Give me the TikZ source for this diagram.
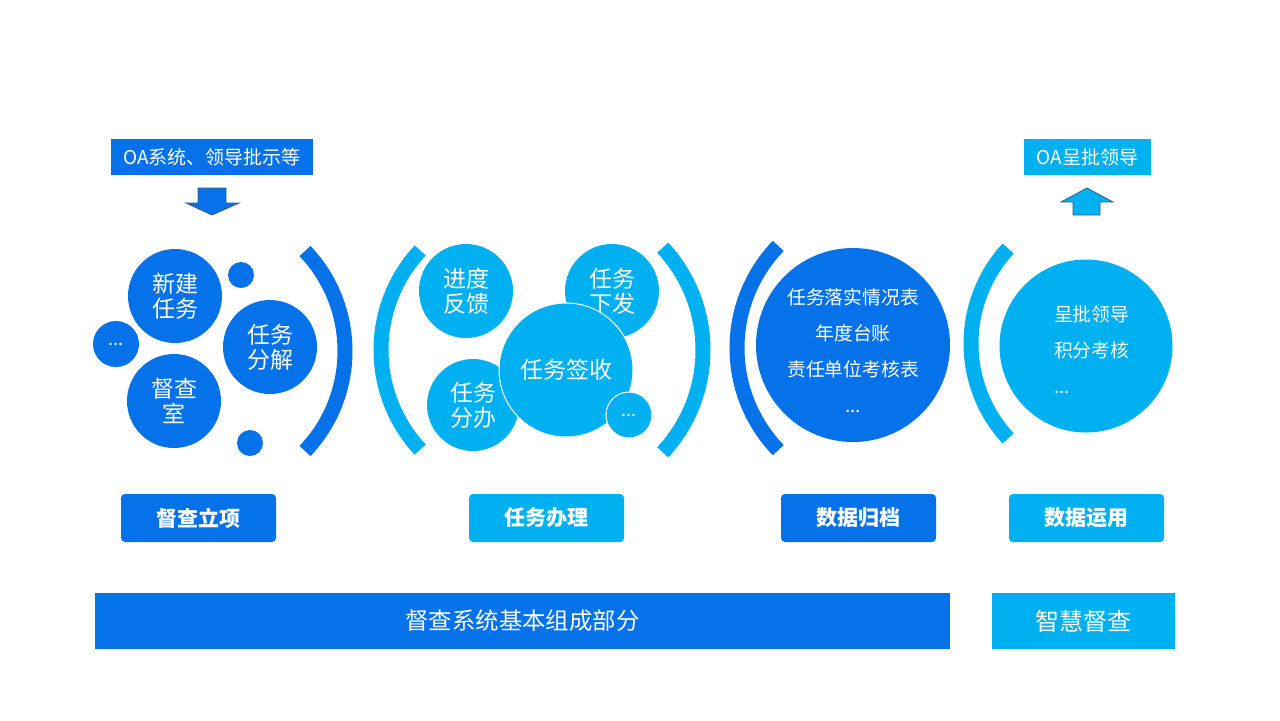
\documentclass[tikz,border=0pt]{standalone}
\usepackage{fontspec}
\setmainfont{Noto Sans CJK SC}
\usepackage{xcolor}
\definecolor{deepblue}{RGB}{6,114,234}
\definecolor{skyblue}{RGB}{0,176,240}
\definecolor{arrowedge}{RGB}{60,90,130}

\tikzset{
  bubble/.style = {circle, inner sep=0pt, align=center, text=white},
  tagbox/.style = {rectangle, rounded corners=2pt, minimum width=77.5pt, minimum height=24pt, text=white, font=\fontsize{10.5}{12}\selectfont\bfseries},
  topbox/.style = {rectangle, minimum height=18pt, text=white, font=\fontsize{9.5}{11}\selectfont},
  barbox/.style = {rectangle, minimum height=28pt, text=white},
  bracket/.style = {line width=7.5pt},
}

\begin{document}
\begin{tikzpicture}[x=0.5pt, y=-0.5pt]
\useasboundingbox (0,0) rectangle (1280,720);

% sources and targets
\node[topbox, fill=deepblue, minimum width=101pt] (oabox) at (212,157) {OA系统、领导批示等};
\node[topbox, fill=skyblue, minimum width=63.5pt] (oaleader) at (1087.5,157) {OA呈批领导};
\draw[fill=deepblue, draw=arrowedge, line width=0.4pt] (198,188) -- (226,188) -- (226,203) -- (239,203) -- (212,215) -- (186,203) -- (198,203) -- cycle;
\draw[fill=skyblue, draw=arrowedge, line width=0.4pt] (1073,215) -- (1100,215) -- (1100,202) -- (1113,202) -- (1087,188) -- (1061,202) -- (1073,202) -- cycle;

% group 1
\node[bubble, fill=deepblue, minimum size=47pt, font=\fontsize{11.5}{12.5}\selectfont] (newtask) at (175,296) {新建\\任务};
\node[bubble, fill=deepblue, minimum size=47pt, font=\fontsize{11.5}{12.5}\selectfont] (split) at (270,347) {任务\\分解};
\node[bubble, fill=deepblue, minimum size=47pt, font=\fontsize{11.5}{12.5}\selectfont] (office) at (174,401) {督查\\室};
\node[bubble, fill=deepblue, minimum size=23pt, font=\fontsize{9}{10}\selectfont] (more1) at (116,344) {...};
\node[bubble, fill=deepblue, minimum size=13pt] (dotA) at (241,275) {};
\node[bubble, fill=deepblue, minimum size=13pt] (dotB) at (250,443) {};
\coordinate (c1) at (200,351);
\draw[bracket, deepblue] (c1) ++(-43.6:72.5pt) arc (-43.6:43.6:72.5pt);

% group 2
\coordinate (c2l) at (527,350);
\coordinate (c2r) at (553,350);
\draw[bracket, skyblue] (c2l) ++(137:73pt) arc (137:223:73pt);
\draw[bracket, skyblue] (c2r) ++(-43:75pt) arc (-43:43:75pt);
\node[bubble, fill=skyblue, minimum size=47pt, font=\fontsize{11.5}{12.5}\selectfont] (feedback) at (466,291) {进度\\反馈};
\node[bubble, fill=skyblue, minimum size=47pt, font=\fontsize{11.5}{12.5}\selectfont] (issue) at (612,291) {任务\\下发};
\node[bubble, fill=skyblue, minimum size=46pt, font=\fontsize{11.5}{12.5}\selectfont] (assign) at (473,405) {任务\\分办};
\node[bubble, fill=skyblue, draw=white, line width=0.5pt, minimum size=67pt, font=\fontsize{11.5}{12.5}\selectfont] (receive) at (566,370) {任务签收};
\node[bubble, fill=skyblue, draw=white, line width=0.5pt, minimum size=23pt, font=\fontsize{9}{10}\selectfont] (more2) at (629,415) {...};

% group 3
\coordinate (c3) at (884,348);
\draw[bracket, deepblue] (c3) ++(136:73.5pt) arc (136:224:73.5pt);
\node[bubble, fill=deepblue, minimum size=97pt] (archive) at (853,345) {};
\node[align=center, text=white, font=\fontsize{9.4}{18}\selectfont] (archivetext) at (853,351) {任务落实情况表\\年度台账\\责任单位考核表\\...};

% group 4
\coordinate (c4) at (1111,343.5);
\draw[bracket, skyblue] (c4) ++(137.3:70pt) arc (137.3:222.7:70pt);
\node[bubble, fill=skyblue, minimum size=86.5pt] (usage) at (1086,346) {};
\node[anchor=west, align=left, text=white, font=\fontsize{9.4}{18}\selectfont] (usagetext) at (1047,350) {呈批领导\\积分考核\\...};

% stage tags
\node[tagbox, fill=deepblue] (tag1) at (198.5,518) {督查立项};
\node[tagbox, fill=skyblue] (tag2) at (546.5,518) {任务办理};
\node[tagbox, fill=deepblue] (tag3) at (858.5,518) {数据归档};
\node[tagbox, fill=skyblue] (tag4) at (1086.5,518) {数据运用};

% bottom bars
\node[barbox, fill=deepblue, minimum width=427.5pt, font=\fontsize{11.7}{13}\selectfont] (basebar) at (522.5,621) {督查系统基本组成部分};
\node[barbox, fill=skyblue, minimum width=91.5pt, font=\fontsize{12}{13}\selectfont] (smartbar) at (1083.5,621) {智慧督查};
\end{tikzpicture}
\end{document}
